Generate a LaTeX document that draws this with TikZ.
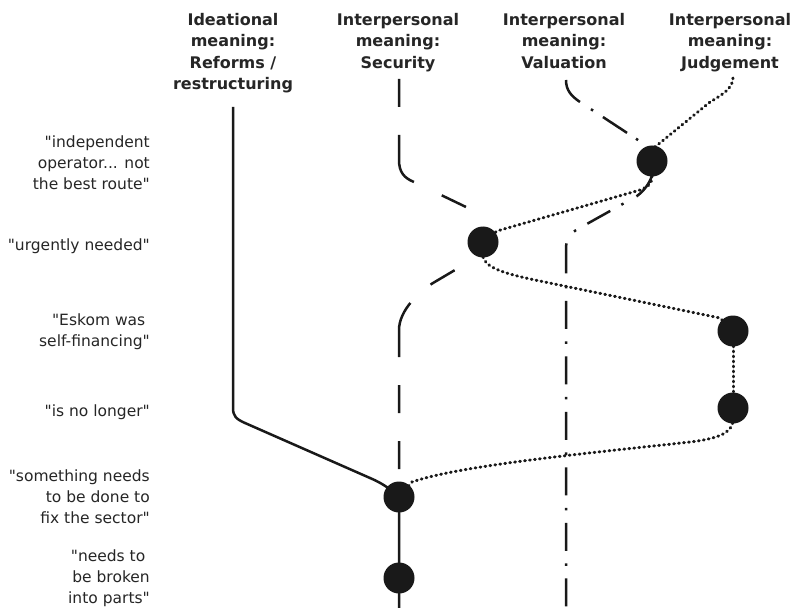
\documentclass[tikz,border=0pt]{standalone}
\usepackage{fontspec}
\setmainfont{DejaVu Sans}
\pgfdeclarelayer{bg}
\pgfsetlayers{bg,main}
\newcommand{\qd}{\textquotedbl}
\begin{document}
\begin{tikzpicture}[x=1bp,y=-1bp,
  ink/.style={draw=black!90, line width=2.5bp},
  ideal/.style={ink},
  secur/.style={ink, dash pattern=on 28bp off 28bp on 53.6bp off 30.9bp on 26.8bp off 83.3bp on 28bp off 27.4bp on 57bp off 28bp on 28bp off 28bp on 28bp off 60bp},
  valu/.style={ink, dash pattern=on 27.3bp off 13.2bp on 2.5bp off 11.8bp on 28.8bp off 10.7bp on 2.5bp off 39bp on 29.5bp off 14.8bp on 2.5bp off 12.7bp on 26.2bp off 13bp on 2.5bp off 14.5bp on 30bp off 12.5bp on 2.5bp off 12.5bp on 28bp off 12.5bp on 2.5bp off 12.5bp on 28bp off 12.5bp on 2.5bp off 12.5bp on 28bp off 12.5bp on 2.5bp off 12.5bp on 28bp off 12.5bp on 2.5bp off 12.5bp on 28bp off 12.5bp on 2.5bp off 12.5bp on 28bp off 12.5bp on 2.5bp off 12.5bp on 28bp off 40bp},
  judg/.style={draw=black!90, line width=3bp, line cap=round, dash pattern=on 0.8bp off 4.2bp},
  dotnode/.style={circle, fill=black!90, minimum size=31bp, inner sep=0pt},
  head/.style={font=\fontsize{16bp}{21.5bp}\selectfont\bfseries, align=center, anchor=north, inner sep=0pt, text=black!85},
  quote/.style={font=\fontsize{15.5bp}{21bp}\selectfont, align=right, anchor=north east, inner sep=0pt, text=black!85}]

\useasboundingbox (0,0) rectangle (793,608);

% headers
\node[head] (h1) at (233,13) {Ideational\\meaning:\\Reforms /\\restructuring};
\node[head] (h2) at (398,13) {Interpersonal\\meaning:\\Security};
\node[head] (h3) at (564,13) {Interpersonal\\meaning:\\Valuation};
\node[head] (h4) at (730,13) {Interpersonal\\meaning:\\Judgement};

% quotes
\node[quote] (q1) at (150,135.5) {\qd independent\\operator... not\\the best route\qd};
\node[quote] (q2) at (150,238.5) {\qd urgently needed\qd};
\node[quote] (q3) at (150,313.5) {\qd Eskom was\hspace*{4.5bp}\\self-financing\qd};
\node[quote] (q4) at (150,404.5) {\qd is no longer\qd};
\node[quote] (q5) at (150,469.5) {\qd something needs\\to be done to\\fix the sector\qd};
\node[quote] (q6) at (150,550) {\qd needs to\hspace*{4.5bp}\\be broken\\into parts\qd};

% dots
\node[dotnode] (d1) at (652,161) {};
\node[dotnode] (d2) at (483,242) {};
\node[dotnode] (d3) at (733,331) {};
\node[dotnode] (d4) at (733,408) {};
\node[dotnode] (d5) at (399,497) {};
\node[dotnode] (d6) at (399,578) {};

% line ends
\coordinate (itop) at (233,107);
\coordinate (ibot) at (399,608);
\coordinate (stop) at (399,79);
\coordinate (vtop) at (566,80);
\coordinate (vbot) at (566,608);
\coordinate (jtop) at (733,78);

\begin{pgfonlayer}{bg}
\fill[white] (0,0) rectangle (793,608);
% ideational
\draw[ideal] (itop) -- (233,408) .. controls (233,416) and (236,419) .. (245,423)
  -- (370,478) .. controls (382,483) and (392,490) .. (d5.center) -- (d6.center) -- (ibot);
% security
\draw[secur] (stop) -- (399,160) .. controls (399,172) and (404,178) .. (414,182)
  -- (466,207) .. controls (480,214) and (485,230) .. (d2.center)
  .. controls (481,256) and (468,263) .. (455,270) -- (433,283)
  .. controls (420,291) and (399,310) .. (399,330) -- (d5.center);
% valuation
\draw[valu] (vtop) .. controls (566,90) and (571,96) .. (580,102) -- (644,144)
  .. controls (660,155) and (656,182) .. (637,196) -- (585,225)
  .. controls (570,233) and (566,236) .. (566,250) -- (vbot);
% judgement
\draw[judg] (jtop) .. controls (733,88) and (722,95) .. (710,102) -- (655,147) -- (d1.center);
\draw[judg] (d1.center) -- (652,176) .. controls (652,184) and (648,187) .. (640,190) -- (497,231) -- (d2.center);
\draw[judg] (d2.center) -- (483,257) .. controls (486,268) and (505,274) .. (540,281) -- (720,318) -- (d3.center);
\draw[judg] (d3.center) -- (d4.center);
\draw[judg] (d4.center) -- (733,422) .. controls (731,434) and (715,439) .. (690,442)
  .. controls (600,452) and (460,465) .. (412,482) -- (d5.center);
\end{pgfonlayer}
\end{tikzpicture}
\end{document}
